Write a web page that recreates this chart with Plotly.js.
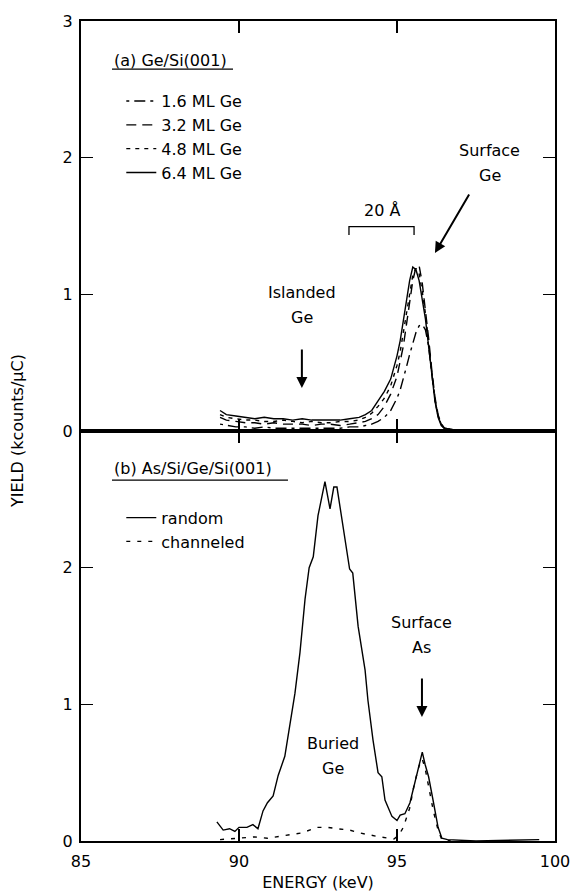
<!DOCTYPE html>
<html>
<head>
<meta charset="utf-8">
<script src="https://cdn.plot.ly/plotly-3.0.1.min.js"></script>
<style>html,body{margin:0;padding:0;background:#fff;}#chart{width:571px;height:892px;}</style>
</head>
<body>
<div id="chart"></div>
<script>
// ---- Panel (a): Ge/Si(001) ----
const energyA = [89.4, 89.6, 89.9, 90.2, 90.5, 90.8, 91.1, 91.4, 91.7, 92.0, 92.3, 92.6, 92.9, 93.2, 93.5, 93.8, 94.0, 94.2, 94.4, 94.6, 94.8, 95.0, 95.1, 95.2, 95.3, 95.4, 95.5, 95.6, 95.7, 95.8, 95.9, 96.0, 96.1, 96.2, 96.3, 96.4, 96.5, 96.7, 97.0];
const ge16 = [0.05, 0.04, 0.03, 0.03, 0.02, 0.03, 0.02, 0.02, 0.02, 0.02, 0.02, 0.02, 0.02, 0.02, 0.03, 0.03, 0.04, 0.05, 0.07, 0.10, 0.15, 0.24, 0.30, 0.38, 0.47, 0.56, 0.65, 0.72, 0.77, 0.78, 0.74, 0.62, 0.42, 0.23, 0.11, 0.05, 0.02, 0.01, 0.0];
const ge32 = [0.10, 0.08, 0.07, 0.06, 0.06, 0.05, 0.06, 0.05, 0.05, 0.05, 0.04, 0.05, 0.05, 0.04, 0.05, 0.06, 0.07, 0.09, 0.12, 0.18, 0.27, 0.40, 0.50, 0.62, 0.78, 0.95, 1.10, 1.20, 1.21, 1.08, 0.90, 0.68, 0.45, 0.25, 0.12, 0.05, 0.02, 0.01, 0.0];
const ge48 = [0.12, 0.10, 0.09, 0.08, 0.08, 0.07, 0.07, 0.08, 0.07, 0.06, 0.07, 0.06, 0.06, 0.07, 0.07, 0.08, 0.10, 0.13, 0.18, 0.24, 0.33, 0.48, 0.58, 0.72, 0.88, 1.02, 1.14, 1.19, 1.15, 1.02, 0.86, 0.65, 0.42, 0.23, 0.11, 0.05, 0.02, 0.01, 0.0];
const ge64 = [0.15, 0.12, 0.11, 0.10, 0.09, 0.10, 0.09, 0.09, 0.08, 0.09, 0.08, 0.08, 0.08, 0.08, 0.09, 0.10, 0.12, 0.15, 0.22, 0.29, 0.38, 0.55, 0.66, 0.80, 0.96, 1.10, 1.20, 1.18, 1.10, 0.95, 0.82, 0.62, 0.40, 0.22, 0.10, 0.04, 0.02, 0.01, 0.0];
const namesA = ["1.6 ML Ge", "3.2 ML Ge", "4.8 ML Ge", "6.4 ML Ge"];

// ---- Panel (b): As/Si/Ge/Si(001) ----
const energyRandom = [89.3, 89.5, 89.7, 89.87, 90.0, 90.25, 90.44, 90.6, 90.76, 90.9, 91.08, 91.24, 91.45, 91.6, 91.77, 91.93, 92.09, 92.22, 92.35, 92.5, 92.72, 92.88, 93.0, 93.1, 93.3, 93.5, 93.6, 93.77, 93.99, 94.08, 94.24, 94.4, 94.52, 94.62, 94.84, 95.0, 95.1, 95.25, 95.41, 95.6, 95.8, 95.89, 96.0, 96.14, 96.3, 96.42, 96.6, 97.5, 99.5];
const yieldRandom = [0.14, 0.08, 0.09, 0.07, 0.10, 0.10, 0.12, 0.09, 0.22, 0.28, 0.33, 0.48, 0.62, 0.84, 1.08, 1.38, 1.77, 2.00, 2.08, 2.38, 2.63, 2.43, 2.59, 2.59, 2.30, 1.99, 1.96, 1.57, 1.25, 1.03, 0.74, 0.50, 0.47, 0.30, 0.18, 0.15, 0.19, 0.20, 0.28, 0.45, 0.65, 0.56, 0.47, 0.30, 0.10, 0.02, 0.01, 0.0, 0.01];
const energyChan = [89.4, 90.0, 90.5, 90.9, 91.5, 92.0, 92.47, 92.8, 93.1, 93.5, 93.8, 94.2, 94.45, 94.9, 95.05, 95.2, 95.4, 95.55, 95.7, 95.8, 95.9, 96.0, 96.15, 96.3, 96.42, 96.7];
const yieldChan = [0.01, 0.02, 0.03, 0.02, 0.04, 0.06, 0.10, 0.10, 0.09, 0.08, 0.06, 0.04, 0.03, 0.015, 0.04, 0.10, 0.24, 0.42, 0.55, 0.60, 0.52, 0.40, 0.22, 0.08, 0.01, 0.0];
const namesB = ["random", "channeled"];

const FONT = "DejaVu Sans, Liberation Sans, Arial, sans-serif";
const lw = 1.4;

const traces = [
  {x: energyA, y: ge16, name: namesA[0], xaxis: "x2", yaxis: "y2", mode: "lines", legend: "legend",
   line: {color: "#000", width: lw, dash: "3px,5px,11px,5px"}},
  {x: energyA, y: ge32, name: namesA[1], xaxis: "x2", yaxis: "y2", mode: "lines", legend: "legend",
   line: {color: "#000", width: lw, dash: "10px,6px"}},
  {x: energyA, y: ge48, name: namesA[2], xaxis: "x2", yaxis: "y2", mode: "lines", legend: "legend",
   line: {color: "#000", width: lw, dash: "4px,5px"}},
  {x: energyA, y: ge64, name: namesA[3], xaxis: "x2", yaxis: "y2", mode: "lines", legend: "legend",
   line: {color: "#000", width: lw}},
  {x: energyRandom, y: yieldRandom, name: namesB[0], xaxis: "x", yaxis: "y", mode: "lines", legend: "legend2",
   line: {color: "#000", width: lw}},
  {x: energyChan, y: yieldChan, name: namesB[1], xaxis: "x", yaxis: "y", mode: "lines", legend: "legend2",
   line: {color: "#000", width: lw, dash: "4px,7px"}}
];

const axBase = {
  showline: true, linecolor: "#000", linewidth: 2, mirror: "allticks",
  ticks: "inside", ticklen: 12, tickwidth: 1.2, tickcolor: "#000",
  showgrid: false, zeroline: false, range: [0, 3], fixedrange: true,
  tickfont: {family: FONT, size: 16, color: "#000"}
};

const txt = (x, y, text, xref, yref, extra) => Object.assign({
  x: x, y: y, xref: xref, yref: yref, text: text, showarrow: false,
  font: {family: FONT, size: 16, color: "#000"}, xanchor: "center", yanchor: "middle"
}, extra || {});
const arrow = (x, y, ax, ay, xref, yref) => ({
  x: x, y: y, ax: ax, ay: ay, xref: xref, yref: yref, axref: xref, ayref: yref,
  text: "", showarrow: true, arrowhead: 2, arrowsize: 1.1, arrowwidth: 2, arrowcolor: "#000", standoff: 0
});

const layout = {
  width: 571, height: 892,
  margin: {l: 81, r: 16, t: 21, b: 51},
  paper_bgcolor: "#fff", plot_bgcolor: "#fff",
  font: {family: FONT, size: 16, color: "#000"},
  showlegend: true,
  xaxis: Object.assign({}, axBase, {domain: [0, 1], anchor: "y", range: [85, 100], tickvals: [85, 90, 95, 100],
    ticklabelstandoff: 5,
    title: {text: "ENERGY (keV)", font: {family: FONT, size: 16, color: "#000"}, standoff: 8}}),
  yaxis: Object.assign({}, axBase, {domain: [0, 0.5], anchor: "x", tickvals: [0, 1, 2], ticklabelstandoff: 3}),
  xaxis2: Object.assign({}, axBase, {domain: [0, 1], anchor: "y2", range: [85, 100], tickvals: [85, 90, 95, 100], showticklabels: false}),
  yaxis2: Object.assign({}, axBase, {domain: [0.5, 1], anchor: "x2", tickvals: [0, 1, 2, 3], ticklabelstandoff: 3}),
  legend: {x: 0.085, y: 0.923, xanchor: "left", yanchor: "top", bgcolor: "rgba(0,0,0,0)", borderwidth: 0,
    font: {family: FONT, size: 16, color: "#000"}, tracegroupgap: 0},
  legend2: {x: 0.085, y: 0.415, xanchor: "left", yanchor: "top", bgcolor: "rgba(0,0,0,0)", borderwidth: 0,
    font: {family: FONT, size: 16, color: "#000"}, tracegroupgap: 0},
  shapes: [
    // underline of panel labels
    {type: "line", xref: "x2", yref: "y2", x0: 85.98, x1: 89.81, y0: 2.648, y1: 2.648, line: {color: "#000", width: 1.2}},
    {type: "line", xref: "x", yref: "y", x0: 85.98, x1: 91.55, y0: 2.641, y1: 2.641, line: {color: "#000", width: 1.2}},
    // 20 Å bracket
    {type: "path", xref: "x2", yref: "y2", path: "M93.48,1.434 L93.48,1.495 L95.54,1.495 L95.54,1.434", line: {color: "#000", width: 1.3}}
  ],
  annotations: [
    txt(85.98, 2.714, "(a) Ge/Si(001)", "x2", "y2", {xanchor: "left"}),
    txt(85.98, 2.729, "(b) As/Si/Ge/Si(001)", "x", "y", {xanchor: "left"}),
    txt(91.99, 1.017, "Islanded", "x2", "y2"),
    txt(91.99, 0.834, "Ge", "x2", "y2"),
    arrow(91.99, 0.315, 91.99, 0.607, "x2", "y2"),
    txt(97.94, 2.056, "Surface", "x2", "y2"),
    txt(97.94, 1.873, "Ge", "x2", "y2"),
    arrow(96.20, 1.302, 97.31, 1.741, "x2", "y2"),
    txt(94.51, 1.617, "20 Å", "x2", "y2"),
    txt(95.79, 1.602, "Surface", "x", "y"),
    txt(95.79, 1.419, "As", "x", "y"),
    arrow(95.79, 0.907, 95.79, 1.200, "x", "y"),
    txt(92.97, 0.717, "Buried", "x", "y"),
    txt(92.97, 0.534, "Ge", "x", "y"),
    txt(-0.135, 0.5, "YIELD (kcounts/μC)", "paper", "paper", {textangle: -90})
  ]
};

Plotly.newPlot("chart", traces, layout, {staticPlot: true, displayModeBar: false});
</script>
</body>
</html>
